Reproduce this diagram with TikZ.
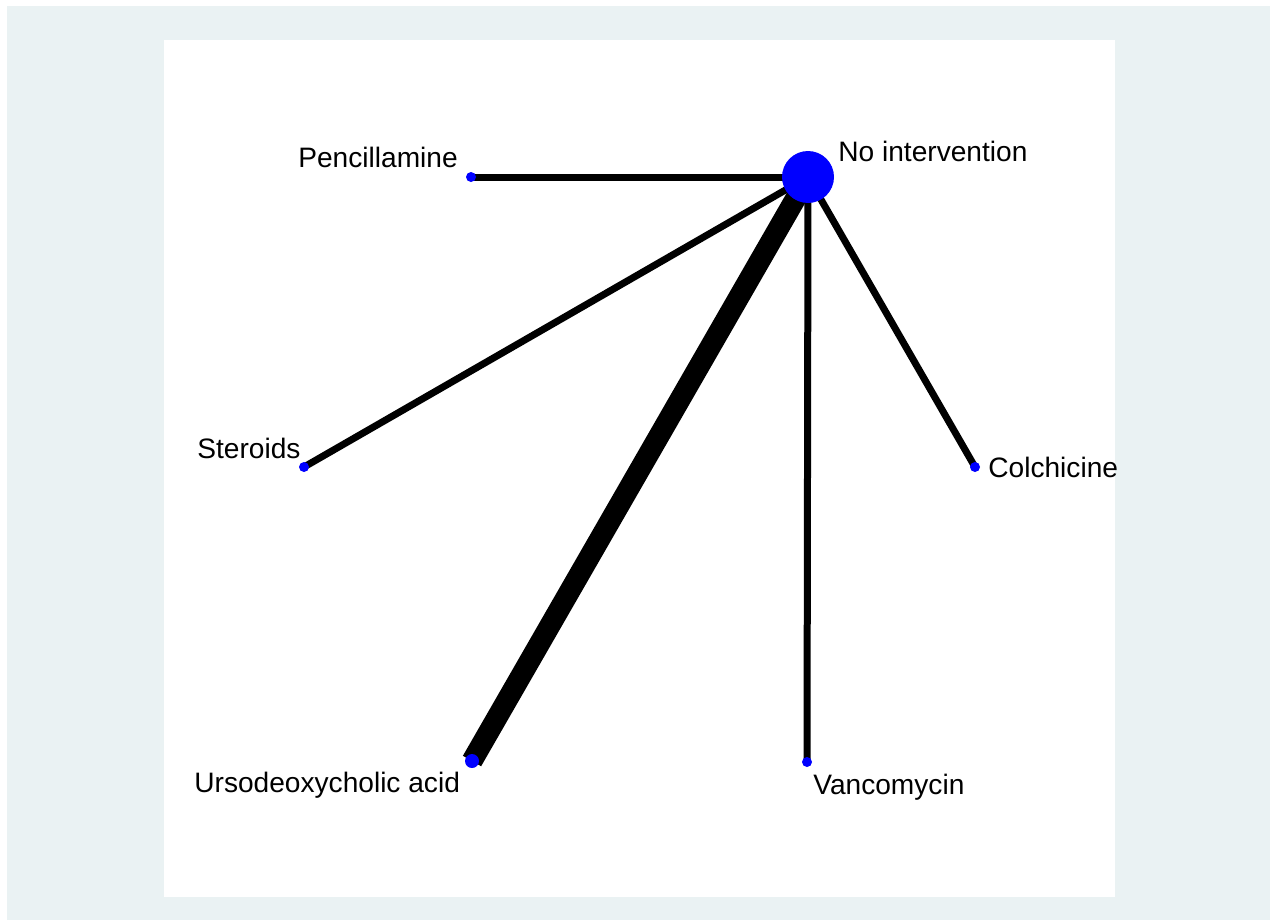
\documentclass[tikz,border=0pt]{standalone}
\usepackage{fontspec}
\setmainfont{Liberation Sans}
\usetikzlibrary{backgrounds}
\definecolor{panelbg}{RGB}{234,242,243}
\begin{document}
\begin{tikzpicture}[x=0.02cm,y=-0.02cm,
    trt/.style={circle,fill=blue,inner sep=0pt,minimum size=#1},
    trt/.default=0.2cm,
    lbl/.style={anchor=base west,inner sep=0pt,font=\fontsize{16}{19}\selectfont},
    edge/.style={line width=#1,black},
    edge/.default=0.14cm]
    \useasboundingbox (0,0) rectangle (1273,923);
    % treatments
    \node[trt=1.04cm] (noint) at (808,177) {};
    \node[trt] (penc) at (471,177) {};
    \node[trt] (ster) at (304,467) {};
    \node[trt=0.28cm] (urso) at (472,761) {};
    \node[trt] (vanc) at (807,762) {};
    \node[trt] (colc) at (975,467) {};
    % labels
    \node[lbl] (noint-lbl) at (838,161) {No intervention};
    \node[lbl] (penc-lbl) at (298,167) {Pencillamine};
    \node[lbl] (ster-lbl) at (197,458) {Steroids};
    \node[lbl] (urso-lbl) at (194,792) {Ursodeoxycholic acid};
    \node[lbl] (vanc-lbl) at (813,794) {Vancomycin};
    \node[lbl] (colc-lbl) at (988,477) {Colchicine};
    \begin{scope}[on background layer]
      \fill[white] (0,0) rectangle (1273,923);
      \fill[panelbg] (7,6) rectangle (1270,920);
      \fill[white] (164,40) rectangle (1115,897);
      \foreach \t in {penc,ster,vanc,colc}
        \draw[edge] (noint.center) -- (\t.center);
      \draw[edge=0.42cm] (noint.center) -- (urso.center);
    \end{scope}
\end{tikzpicture}
\end{document}
